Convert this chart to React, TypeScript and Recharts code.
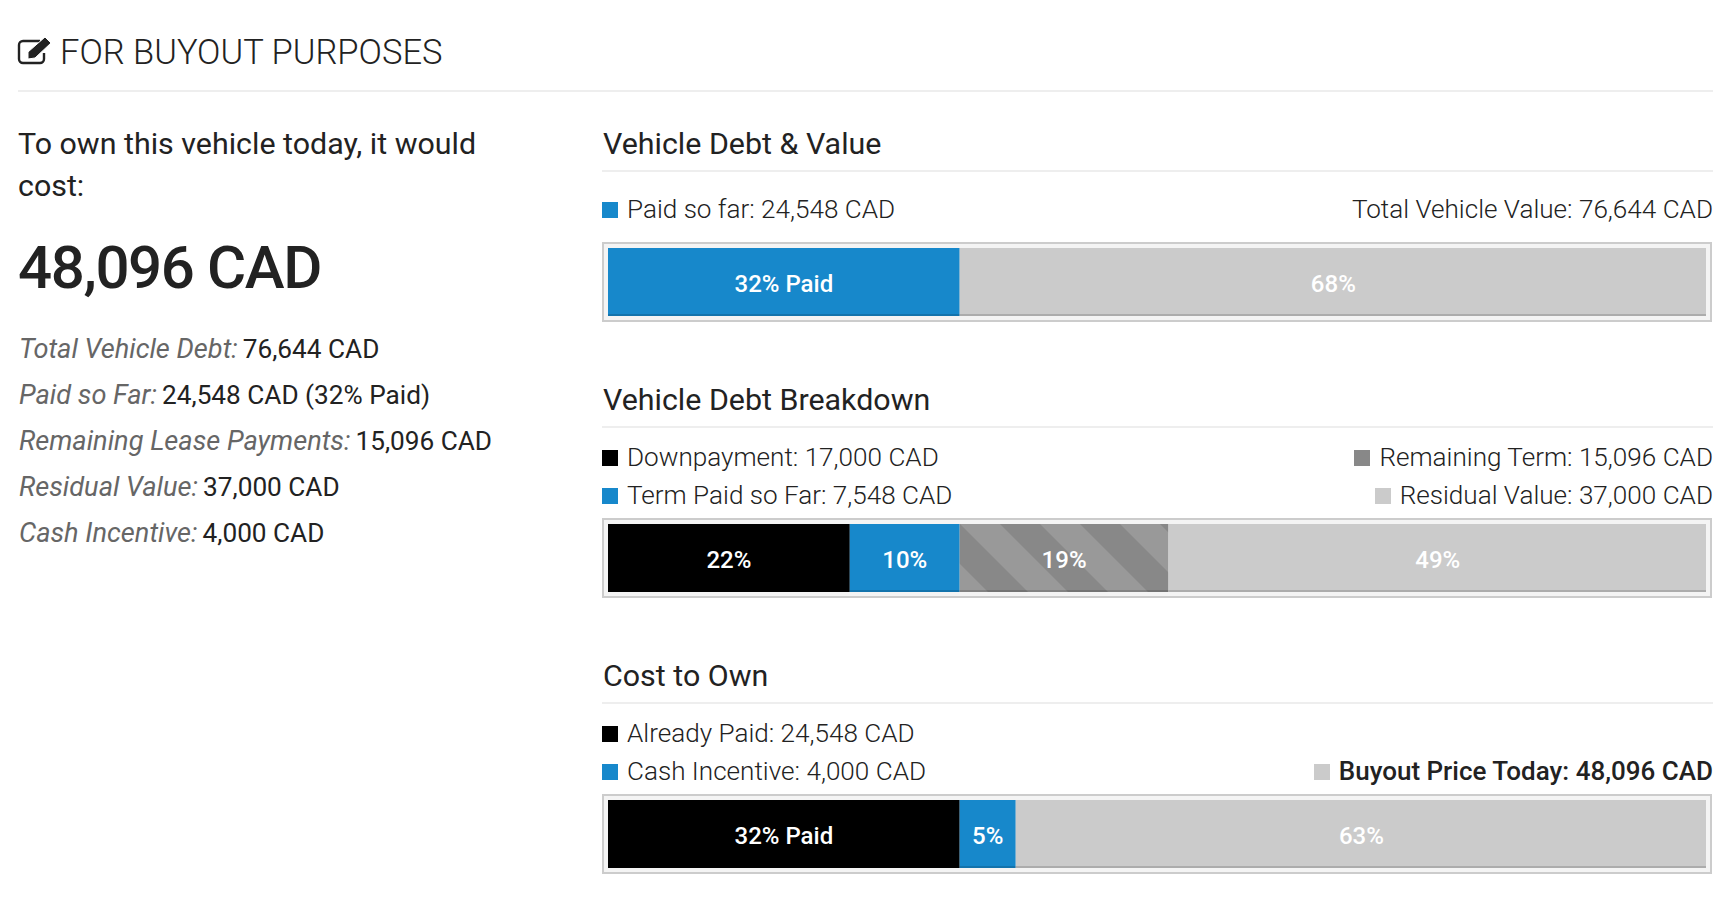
import { Bar, BarChart, LabelList, XAxis, YAxis } from 'recharts';

const FONT = 'Roboto, sans-serif';
const BLUE = '#1788cb';
const BLACK = '#000000';
const GREY = '#cbcbcb';
const DARK = '#888888';

// percent widths and their printed labels, one pair per stacked bar
const debtValues = [32, 68];
const debtLabels = ['32% Paid', '68%'];
const debtColors = [BLUE, GREY];

const breakdownValues = [22, 10, 19, 49];
const breakdownLabels = ['22%', '10%', '19%', '49%'];
const breakdownColors = [BLACK, BLUE, 'url(#stripes)', GREY];

const ownValues = [32, 5.1, 62.9];
const ownLabels = ['32% Paid', '5%', '63%'];
const ownColors = [BLACK, BLUE, GREY];

const summaryRows = [
  ['Total Vehicle Debt:', '76,644 CAD'],
  ['Paid so Far:', '24,548 CAD (32% Paid)'],
  ['Remaining Lease Payments:', '15,096 CAD'],
  ['Residual Value:', '37,000 CAD'],
  ['Cash Incentive:', '4,000 CAD'],
];
const summaryCenters = [348, 394, 440, 486, 532];

function Line({ left, top, width }: { left: number; top: number; width: number }) {
  return <div style={{ position: 'absolute', left, top, width, height: 2, background: '#eeeeee' }} />;
}

function Text({ left, right, cy, size, weight = 400, color = '#222222', spacing, children }: any) {
  return (
    <div
      style={{
        position: 'absolute', left, right, top: cy - 29, height: 60, lineHeight: '60px',
        fontFamily: FONT, fontSize: size, fontWeight: weight, color, whiteSpace: 'nowrap',
        letterSpacing: spacing,
      }}
    >
      {children}
    </div>
  );
}

function Key({ color, label, cy, align = 'left', bold = false }: any) {
  const swatch = (
    <span style={{ display: 'inline-block', width: 16, height: 16, background: color, marginRight: 9, verticalAlign: '0px' }} />
  );
  const pos = align === 'left' ? { left: 602 } : { right: 11 };
  return (
    <Text {...pos} cy={cy} size={bold ? 26 : 26.1} weight={bold ? 500 : 300}>
      {color && swatch}
      {label}
    </Text>
  );
}

// segment with the darker strip along its lower edge
function Segment(props: any) {
  const { x, y, width, height, fill } = props;
  return (
    <g>
      <rect x={x} y={y} width={width} height={height} fill={fill} />
      <rect x={x} y={y + height - 2} width={width} height={2} fill="#000000" fillOpacity={0.15} />
    </g>
  );
}

function StackBar({ top, values, labels, colors }: { top: number; values: number[]; labels: string[]; colors: string[] }) {
  const row: Record<string, number | string> = { name: 'bar' };
  values.forEach((v, i) => { row[`s${i}`] = v; });
  return (
    <div
      style={{
        position: 'absolute', left: 602, top, width: 1110, height: 80, boxSizing: 'border-box',
        border: '2px solid #cccccc', background: '#f4f4f4',
      }}
    >
      <div style={{ position: 'absolute', left: 4, top: 4, width: 1098, height: 68, overflow: 'hidden' }}>
        <BarChart
          width={1099}
          height={68}
          data={[row]}
          layout="vertical"
          margin={{ top: 0, right: 0, bottom: 0, left: 0 }}
          barCategoryGap={0}
        >
          <defs>
            <pattern id="stripes" patternUnits="userSpaceOnUse" width={80} height={80} patternTransform="translate(352 0)">
              <rect width={80} height={80} fill="#999999" />
              <path d="M40 0 L80 0 L80 40 Z M0 0 L80 80 L40 80 L0 40 Z" fill={DARK} />
            </pattern>
          </defs>
          <XAxis type="number" domain={[0, 100]} hide />
          <YAxis type="category" dataKey="name" hide />
          {values.map((_, i) => (
            <Bar
              key={i}
              dataKey={`s${i}`}
              stackId="a"
              fill={colors[i]}
              shape={Segment}
              isAnimationActive={false}
            >
              <LabelList
                dataKey={`s${i}`}
                position="center"
                formatter={() => labels[i]}
                fill="#ffffff"
                dy={1}
                style={{ fontFamily: FONT, fontSize: 24, fontWeight: 500 }}
              />
            </Bar>
          ))}
        </BarChart>
      </div>
    </div>
  );
}

export default function App() {
  return (
    <div style={{ position: 'absolute', left: 0, top: 0, width: 1724, height: 904, background: '#ffffff', overflow: 'hidden' }}>
      <svg style={{ position: 'absolute', left: 17, top: 35 }} width={36} height={30} viewBox="0 0 36 30">
        <path d="M27 18 V24 A4 4 0 0 1 23 28 H6 A4 4 0 0 1 2 24 V10 A4 4 0 0 1 6 6 H23" fill="none" stroke="#222222" strokeWidth={2.4} />
        <path d="M11 17 L28 2 L34 8 L18 23 L11 24 Z" fill="#222222" stroke="#ffffff" strokeWidth={1} />
      </svg>
      <Text left={60} cy={51} size={34.5} weight={300}>FOR BUYOUT PURPOSES</Text>
      <Line left={18} top={90} width={1695} />

      <Text left={18} cy={143} size={30.4}>To own this vehicle today, it would</Text>
      <Text left={18} cy={185} size={30.4}>cost:</Text>
      <Text left={18} cy={267} size={60} weight={500} spacing={-1.4}>48,096 CAD</Text>
      {summaryRows.map(([k, v], i) => (
        <Text key={k} left={19} cy={summaryCenters[i]} size={26.2}>
          <span style={{ fontStyle: 'italic', color: '#666666', fontSize: 27.2, marginRight: 5 }}>{k}</span>{v}
        </Text>
      ))}

      <Text left={603} cy={143} size={30.4}>Vehicle Debt &amp; Value</Text>
      <Line left={602} top={170} width={1111} />
      <Key color={BLUE} label="Paid so far: 24,548 CAD" cy={208} />
      <Key label="Total Vehicle Value: 76,644 CAD" cy={208} align="right" />
      <StackBar top={242} values={debtValues} labels={debtLabels} colors={debtColors} />

      <Text left={603} cy={399} size={30.4}>Vehicle Debt Breakdown</Text>
      <Line left={602} top={426} width={1111} />
      <Key color={BLACK} label="Downpayment: 17,000 CAD" cy={456} />
      <Key color={BLUE} label="Term Paid so Far: 7,548 CAD" cy={494} />
      <Key color={DARK} label="Remaining Term: 15,096 CAD" cy={456} align="right" />
      <Key color={GREY} label="Residual Value: 37,000 CAD" cy={494} align="right" />
      <StackBar top={518} values={breakdownValues} labels={breakdownLabels} colors={breakdownColors} />

      <Text left={603} cy={675} size={30.4}>Cost to Own</Text>
      <Line left={602} top={702} width={1111} />
      <Key color={BLACK} label="Already Paid: 24,548 CAD" cy={732} />
      <Key color={BLUE} label="Cash Incentive: 4,000 CAD" cy={770} />
      <Key color={GREY} label="Buyout Price Today: 48,096 CAD" cy={770} align="right" bold />
      <StackBar top={794} values={ownValues} labels={ownLabels} colors={ownColors} />
    </div>
  );
}
